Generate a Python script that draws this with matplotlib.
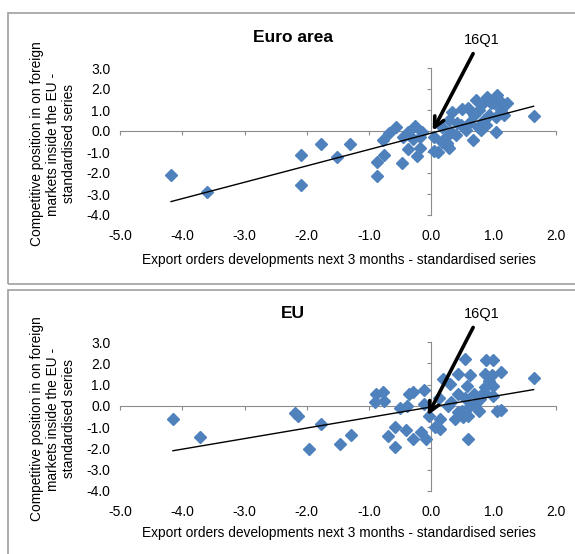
import numpy as np
import matplotlib
matplotlib.use('Agg')
from matplotlib import pyplot as plt
from matplotlib.patches import Rectangle

# ---- data ----
ea_x = [-4.18, -3.61, -2.10, -2.10, -1.78, -1.51, -1.30, -0.87, -0.87, -0.76,
        -0.78, -0.68, -0.57, -0.48, -0.46, -0.38, -0.37, -0.30, -0.26, -0.23,
        -0.18, -0.15, -0.19, 0.04, 0.04, 0.11, 0.17, 0.23, 0.25, 0.28,
        0.33, 0.31, 0.39, 0.47, 0.49, 0.55, 0.58, 0.60, 0.66, 0.68,
        0.71, 0.74, 0.76, 0.79, 0.82, 0.84, 0.90, 0.92, 0.95, 1.03,
        1.03, 1.06, 1.09, 1.11, 1.17, 1.22, 1.64, 0.25, 0.17, 0.28,
        0.87, 1.14, 1.00, 0.41]
ea_y = [-2.10, -2.92, -1.16, -2.57, -0.62, -1.24, -0.63, -2.13, -1.49, -1.13,
        -0.43, -0.08, 0.21, -1.51, -0.30, -0.06, -0.87, -0.40, 0.24, -1.19,
        -0.83, -0.03, -0.27, -0.30, -0.94, -0.98, 0.21, -0.27, -0.59, 0.52,
        0.92, -0.03, -0.19, 0.29, 1.03, 0.05, 1.08, 0.37, -0.43, 0.76,
        1.48, 0.21, 1.00, 0.05, 1.32, 0.52, 1.63, 0.76, 1.32, -0.03,
        0.68, 1.71, 1.48, 1.00, 0.76, 1.32, 0.71, -0.67, -0.51, -0.83,
        0.29, 1.16, 1.32, 0.37]
ea_trend = (0.78, -0.10)          # slope, intercept
ea_last = (0.0, -0.10)            # 16Q1

eu_x = [-4.15, -3.72, -2.19, -2.14, -1.97, -1.77, -1.46, -1.29, -0.91, -0.89,
        -0.78, -0.76, -0.70, -0.59, -0.59, -0.50, -0.39, -0.41, -0.36, -0.30,
        -0.30, -0.16, -0.12, -0.12, -0.09, -0.04, 0.05, 0.14, 0.12, 0.14,
        0.19, 0.30, 0.32, 0.38, 0.43, 0.43, 0.49, 0.54, 0.57, 0.58,
        0.62, 0.54, 0.59, 0.68, 0.70, 0.76, 0.78, 0.86, 0.86, 0.88,
        0.92, 0.97, 0.99, 0.99, 0.99, 1.05, 1.11, 1.12, 1.64, 0.43,
        0.51, 0.27, 0.84, 0.62]
eu_y = [-0.60, -1.48, -0.35, -0.47, -2.02, -0.83, -1.78, -1.35, 0.16, 0.55,
        0.63, 0.24, -1.40, -0.98, -1.94, -0.08, 0.00, -1.13, 0.55, 0.66,
        -1.57, -1.23, 0.76, 0.09, -1.54, -0.47, -0.99, -1.07, 0.39, -0.63,
        1.26, 1.02, 0.16, -0.63, 1.50, 0.55, -0.24, 2.20, 0.94, -1.57,
        1.45, 0.39, -0.47, 0.55, 0.08, -0.24, 0.31, 1.50, 0.87, 2.16,
        1.18, 1.45, 2.16, 0.94, 0.47, -0.24, 1.61, -0.19, 1.29, -0.31,
        -0.50, 0.00, 0.63, 0.00]
eu_trend = (0.496, -0.05)
eu_last = (-0.08, -0.56)

x_ticks = [-5, -4, -3, -2, -1, 0, 1, 2]
y_ticks = [-4, -3, -2, -1, 0, 1, 2, 3]

ylab = 'Competitive position in on foreign\nmarkets inside the EU -\nstandardised series'
xlab = 'Export orders developments next 3 months - standardised series'

plt.rcParams['font.family'] = ['Liberation Sans', 'DejaVu Sans']
plt.rcParams['axes.unicode_minus'] = False

fig = plt.figure(figsize=(5.75, 5.54), dpi=100)
W, H = 575, 554

# panel frames
fig.patches.append(Rectangle((8 / W, 1 - 284 / H), 1, 271 / H, transform=fig.transFigure,
                             fill=False, ec='#a0a0a0', lw=1.2))
fig.patches.append(Rectangle((8 / W, -0.01), 1, 1 - 290 / H + 0.01, transform=fig.transFigure,
                             fill=False, ec='#a0a0a0', lw=1.2))


def panel(rect, xs, ys, trend, last, title, title_y, xlab_y, ylab_y):
    ax = fig.add_axes(rect)
    ax.set_xlim(-5, 2)
    ax.set_ylim(-4, 3)
    for s in ['top', 'right']:
        ax.spines[s].set_visible(False)
    ax.spines['left'].set_position(('data', 0))
    ax.spines['bottom'].set_position(('data', 0))
    for s in ['left', 'bottom']:
        ax.spines[s].set_color('#8c8c8c')
    ax.set_xticks(x_ticks)
    ax.set_yticks(y_ticks)
    ax.tick_params(labelbottom=False, labelleft=False, length=3, color='#8c8c8c')

    # tick labels sit at the low end (Excel style)
    sx = ax.secondary_xaxis('bottom')
    sx.set_xticks(x_ticks)
    sx.set_xticklabels(['%.1f' % v for v in x_ticks])
    sx.tick_params(length=0, pad=10, labelsize=10)
    sx.spines['bottom'].set_visible(False)
    sy = ax.secondary_yaxis('left')
    sy.set_yticks(y_ticks)
    sy.set_yticklabels(['%.1f' % v for v in y_ticks])
    sy.tick_params(length=0, pad=7, labelsize=10)
    sy.spines['left'].set_visible(False)

    xs = np.array(xs)
    ys = np.array(ys)
    ax.plot(xs, ys, 'D', color='#4f81bd', ms=6.4, mec='#4f81bd', zorder=3)
    lx = np.array([xs.min(), xs.max()])
    ax.plot(lx, trend[0] * lx + trend[1], color='black', lw=1, zorder=4)

    ax.annotate('', xy=last, xytext=(0.69, 3.8),
                arrowprops=dict(arrowstyle='->', lw=2.6, color='black', mutation_scale=18),
                annotation_clip=False, zorder=5)
    ax.text(0.81, 4.33, '16Q1', fontsize=10.5, ha='center', va='center', clip_on=False)

    fig.text(293 / W, 1 - title_y / H, title, fontsize=12.5, fontweight='bold',
             ha='center', va='center')
    fig.text(339 / W, 1 - xlab_y / H, xlab, fontsize=9.9, ha='center', va='center')
    fig.text(53 / W, 1 - ylab_y / H, ylab, fontsize=9.9, rotation=90,
             ha='center', va='center', multialignment='center', linespacing=1.2)
    return ax


panel([120 / W, 1 - 215 / H, 436 / W, 147 / H], ea_x, ea_y, ea_trend, ea_last,
      'Euro area', 38, 260, 144)
panel([120 / W, 1 - 491 / H, 436 / W, 149 / H], eu_x, eu_y, eu_trend, eu_last,
      'EU', 313, 533, 419)

plt.savefig('out.png', dpi=100)
